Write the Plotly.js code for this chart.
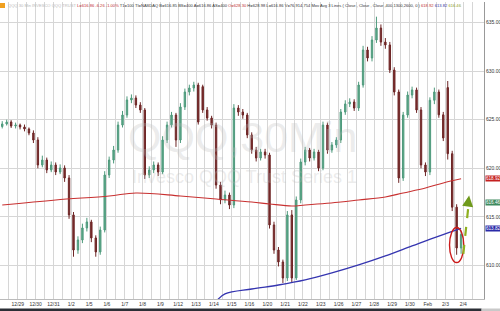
<!DOCTYPE html>
<html>
<head>
<meta charset="utf-8">
<script src="https://cdn.plot.ly/plotly-3.0.1.min.js"></script>
<style>html,body{margin:0;padding:0;background:#fff;}#chart{width:500px;height:311px;}</style>
</head>
<body>
<div id="chart"></div>
<script>
// ---- data (30-min bars, 4 sampled bars per trading day) ----
const dayLabels = ['12/29','12/30','12/31','1/2','1/5','1/6','1/7','1/8','1/9','1/12','1/13','1/14','1/15','1/16',
  '1/20','1/21','1/22','1/23','1/26','1/27','1/28','1/29','1/30','Feb','2/3','2/4'];
const barsPerDay = 4;

const opens = [624.30,624.56,624.76,624.35,624.45,624.25,624.04,623.63,622.91,620.34,
620.85,619.83,620.34,619.62,620.03,619.00,615.20,611.59,612.62,613.86,
614.48,612.83,611.39,613.65,619.31,620.85,621.88,624.45,625.48,627.03,
627.23,626.51,626.00,619.31,619.83,620.34,619.62,622.91,624.45,625.48,
622.91,626.31,627.85,628.26,628.57,628.40,626.00,625.17,624.45,618.28,
616.74,617.25,616.22,626.20,625.79,625.48,623.43,621.88,621.06,621.68,
621.37,614.17,611.59,610.36,608.71,615.20,608.71,616.74,620.65,621.88,
621.06,621.68,620.03,624.45,621.88,622.40,622.91,625.79,626.62,626.82,
626.20,628.57,632.17,631.35,633.20,634.43,632.99,632.69,630.11,627.85,
619.00,625.48,627.54,628.06,626.00,620.34,619.62,627.00,627.85,625.50,
628.30,621.50,616.00,611.80];
const highs = [624.85,625.00,624.95,624.70,624.60,624.50,624.20,623.90,623.20,621.30,
621.10,620.70,620.60,620.40,620.30,619.30,615.50,613.00,614.30,614.90,
614.70,613.10,614.00,619.70,621.20,622.30,624.80,625.90,627.40,627.60,
627.50,626.80,626.20,620.20,620.70,620.60,623.30,624.80,625.80,625.70,
626.70,628.20,628.60,628.90,628.80,628.60,626.30,625.40,624.70,618.60,
617.70,617.50,626.60,626.50,626.10,625.70,623.70,622.20,622.00,622.00,
621.60,614.50,611.90,610.60,615.60,615.70,617.10,621.00,622.20,622.10,
622.00,621.90,624.80,624.70,622.70,623.20,626.10,627.00,627.20,627.10,
628.90,632.60,632.50,633.60,635.60,634.80,633.40,633.00,630.40,628.10,
625.80,627.90,628.40,628.30,626.30,620.60,627.30,628.30,628.10,625.80,
628.98,621.80,616.30,613.60];
const lows = [624.10,624.40,624.15,624.10,624.00,623.80,623.40,622.60,620.00,620.10,
619.50,619.60,619.30,619.40,618.60,614.80,610.90,611.20,612.30,613.50,
612.40,610.90,611.10,613.40,619.00,620.50,621.60,624.20,625.20,626.70,
626.20,625.70,618.90,619.00,619.50,619.20,619.40,622.60,624.20,622.20,
622.60,626.00,627.50,627.90,624.50,625.70,624.90,624.10,617.90,616.30,
616.40,615.80,615.90,625.40,625.10,623.10,621.50,620.70,620.80,621.00,
613.80,611.20,609.90,608.20,608.40,608.30,608.50,616.40,620.30,620.70,
620.80,619.70,619.80,621.50,621.60,622.10,622.60,625.50,626.30,625.90,
625.90,628.30,631.00,631.00,632.90,632.60,632.30,629.80,627.50,618.50,
618.70,625.20,627.20,625.70,620.00,619.20,619.30,626.60,625.20,622.80,
620.90,615.60,611.10,611.20];
const closes = [624.56,624.76,624.35,624.45,624.25,624.04,623.63,622.91,620.34,620.85,
619.83,620.34,619.62,620.03,619.00,615.20,611.59,612.62,613.86,614.48,
612.83,611.39,613.65,619.31,620.85,621.88,624.45,625.48,627.03,627.23,
626.51,626.00,619.31,619.83,620.34,619.62,622.91,624.45,625.48,622.91,
626.31,627.85,628.26,628.57,624.76,626.00,625.17,624.45,618.28,616.74,
617.25,616.22,626.20,625.79,625.48,623.43,621.88,621.06,621.68,621.37,
614.17,611.59,610.36,608.71,615.20,608.71,616.74,620.65,621.88,621.06,
621.68,620.03,624.45,621.88,622.40,622.91,625.79,626.62,626.82,626.20,
628.57,632.17,631.35,633.20,634.43,632.99,632.69,630.11,627.85,619.00,
625.48,627.54,628.06,626.00,620.34,619.62,627.00,627.85,625.50,623.12,
621.50,616.00,611.80,613.20];

// moving averages (read at selected bars)
const maRedBars = [0,12,24,30,40,48,56,60,65,68,76,80,86,90,95,99,103];
const maRed = [616.22,616.74,617.15,617.46,617.15,616.84,616.53,616.33,616.12,616.22,616.53,616.74,617.05,617.46,617.97,618.49,618.92];
const maBlueBars = [48,50,56,62,68,74,80,86,92,98,103];
const maBlue = [606.30,607.07,607.58,607.99,608.51,609.23,610.05,610.98,612.01,613.03,613.82];

const priceTicks = [610,615,620,625,630,635];
const lastLabels = [
  {text:'618.92', value:618.92, color:'#c42020'},
  {text:'616.46', value:616.46, color:'#3f8a5e'},
  {text:'613.82', value:613.82, color:'#2a2aa8'}
];

// ---- build ----
const xs = opens.map((_, i) => i);
const tickvals = [], ticktext = [];
for (let k = 0; k <= dayLabels.length; k++) {
  tickvals.push(k * barsPerDay - 0.5); ticktext.push(k === 0 ? '' : dayLabels[k - 1]);
  tickvals.push(k * barsPerDay + 1.5); ticktext.push('');
}

const traces = [
  {type:'candlestick', x:xs, open:opens, high:highs, low:lows, close:closes,
   increasing:{line:{color:'#4e9a7c', width:1}, fillcolor:'#5ea88a'},
   decreasing:{line:{color:'#6e2626', width:1}, fillcolor:'#7a2e2e'},
   whiskerwidth:0, hoverinfo:'skip', showlegend:false},
  {type:'scatter', mode:'lines', x:maRedBars, y:maRed, line:{color:'#c83030', width:1.1, shape:'spline'}, hoverinfo:'skip', showlegend:false},
  {type:'scatter', mode:'lines', x:maBlueBars, y:maBlue, line:{color:'#3535b0', width:1.3, shape:'spline'}, hoverinfo:'skip', showlegend:false}
];

const hdr = '<span style="color:#b8b8b8">QQQ 30 Min INVESCO QQQ TRUST</span> ' +
  '<span style="color:#c03030">L=616.86 -6.26 -1.00%</span> T1=100 TI=NASDAQ B=616.85 BS=400 A=616.86 AS=400 ' +
  '<span style="color:#c03030">O=628.30</span> H=628.98 L=616.86 V=76,914,754 Mov Avg 3 Lines ( Close , Close , Close ,400,1300,2600, 0 ) ' +
  '<span style="color:#c03030">618.92</span> <span style="color:#3030a0">613.82</span> <span style="color:#8a9a20">616.46</span>';

const annotations = [
  {xref:'paper', yref:'paper', x:0.5, y:0.545, text:'QQQ,30Min', showarrow:false,
   font:{family:'Liberation Sans, Arial, sans-serif', size:43, color:'rgba(190,190,190,0.30)'}},
  {xref:'paper', yref:'paper', x:0.505, y:0.41, text:'Invesco QQQ Trust Series 1', showarrow:false,
   font:{family:'Liberation Sans, Arial, sans-serif', size:18, color:'rgba(190,190,190,0.30)'}},
  {xref:'paper', yref:'paper', x:0, y:1, xanchor:'left', yanchor:'top', xshift:6, yshift:1, text:hdr, showarrow:false,
   font:{family:'Liberation Sans, Arial, sans-serif', size:4.1, color:'#333'}},
  {xref:'x', yref:'y', x:104.8, y:617.2, ax:-1.2, ay:9, text:'', showarrow:true, arrowhead:2, arrowsize:1, arrowwidth:2.2, arrowcolor:'#6f9a1c'}
];
lastLabels.forEach(l => annotations.push({xref:'paper', yref:'y', x:1, y:l.value, xanchor:'left', xshift:1,
  text:l.text, showarrow:false, bgcolor:l.color, borderpad:0,
  font:{family:'Liberation Sans, Arial, sans-serif', size:4.6, color:'#fff'}}));

const shapes = [
  {type:'rect', xref:'paper', yref:'paper', xsizemode:'pixel', ysizemode:'pixel', xanchor:0, yanchor:1,
   x0:0, x1:5, y0:-1, y1:-6, fillcolor:'#f0a020', line:{width:0}},
  {type:'circle', xref:'x', yref:'y', x0:100.4, x1:103.6, y0:610.3, y1:613.9, line:{color:'#cc1a1a', width:1.4}},
  {type:'line', xref:'x', yref:'y', x0:103.5, y0:611.2, x1:104.75, y1:616.6, line:{color:'#8fb020', width:2.2, dash:'dash'}},
  {type:'rect', xref:'paper', yref:'paper', x0:0, x1:0.995, y0:-0.045, y1:-0.032, fillcolor:'#2b2e35', line:{width:0}},
  {type:'rect', xref:'paper', yref:'paper', x0:0.995, x1:1.04, y0:-0.045, y1:-0.032, fillcolor:'#c9c9c9', line:{width:0}}
];

const layout = {
  width:500, height:311,
  margin:{l:0, r:16, t:2, b:12},
  paper_bgcolor:'#fff', plot_bgcolor:'#fff',
  showlegend:false,
  boxgap:0.55,
  xaxis:{range:[-0.5, 108.14], tickmode:'array', tickvals:tickvals, ticktext:ticktext,
    showgrid:true, gridcolor:'#d6d6d6', gridwidth:1, zeroline:false,
    showline:true, linecolor:'#bbb', linewidth:1, ticks:'',
    tickfont:{family:'Liberation Sans, Arial, sans-serif', size:5, color:'#333'},
    rangeslider:{visible:false}, fixedrange:true},
  yaxis:{side:'right', range:[606.55, 637.11], tickmode:'array', tickvals:priceTicks,
    ticktext:priceTicks.map(v => v.toFixed(2)),
    showgrid:true, gridcolor:'#d6d6d6', gridwidth:1, zeroline:false,
    showline:true, linecolor:'#999', linewidth:1, ticks:'',
    tickfont:{family:'Liberation Sans, Arial, sans-serif', size:5, color:'#333'}, fixedrange:true},
  annotations:annotations,
  shapes:shapes
};

Plotly.newPlot('chart', traces, layout, {displayModeBar:false, staticPlot:true});
</script>
</body>
</html>
